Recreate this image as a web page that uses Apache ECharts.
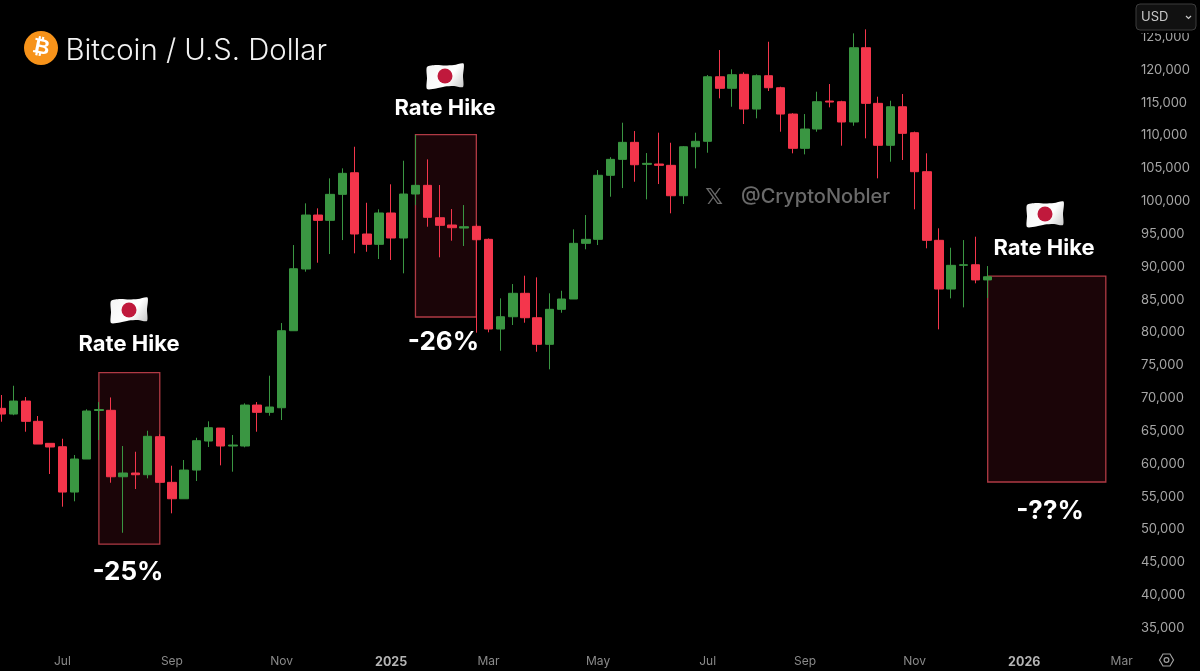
<!DOCTYPE html>
<html>
<head>
<meta charset="utf-8">
<title>Bitcoin / U.S. Dollar</title>
<script src="https://cdn.jsdelivr.net/npm/echarts@6/dist/echarts.min.js"></script>
<style>
html,body{margin:0;padding:0;background:#000;}
#container{width:1200px;height:671px;}
</style>
</head>
<body>
<div id="container"></div>
<script>
// weekly candles, [open, close, low, high], first one is the week of 2024-05-27
var candles = [
	[68450,67580,66410,70480],[67580,69560,67400,71890],[69560,66470,64890,70170],[66470,63010,63010,67280],
	[63120,62560,58450,63120],[62600,55700,53470,63820],[55700,60730,54290,61340],[60730,68040,60730,68300],
	[68120,68270,63620,69410],[68150,58030,57120,70110],[58030,58600,49500,62710],[58600,58340,56160,61840],
	[58340,64190,57790,65040],[64130,57180,57180,64500],[57180,54680,52460,59710],[54680,59050,54680,60580],
	[59050,63520,57380,63970],[63470,65500,62560,66470],[65450,62710,59770,65450],[62710,62860,58800,64390],
	[62710,68950,62510,69210],[68950,67840,64890,69410],[67840,68650,67330,73420],[68540,80270,66670,81440],
	[80270,89710,80270,93320],[89670,97890,89260,99670],[97890,97080,90630,98910],[97080,101040,91950,103480],
	[101040,104240,94080,105000],[104330,95000,92060,108290],[95000,93430,92300,99760],[93430,98200,91190,98760],
	[98200,94390,91040,102570],[94390,101090,89010,106160],[101090,102410,99410,110080],[102410,97540,96110,106370],
	[97480,96320,91450,102460],[96370,95960,93980,98800],[95910,96110,93170,99410],[96170,94130,79970,96500],
	[94190,80530,80030,94320],[80530,82400,77220,85200],[82400,85970,81140,87380],[85970,82250,81490,88650],
	[82250,78200,77070,88400],[78200,83530,74390,85970],[83530,85100,83010,86360],[85100,93580,85100,95710],
	[93580,94190,92670,97890],[94190,103940,93320,104740],[103940,106370,100680,106700],[106370,108960,102000,111950],
	[108960,105550,102960,110680],[105610,105760,100280,107330],[105660,105460,102610,110430],[105460,100830,98150,108900],
	[100830,108290,99570,108400],[108290,109120,105000,110430],[109120,118950,107380,119210],[118950,117190,115660,123020],
	[117190,119260,114380,120080],[119320,114030,111750,119620],[114030,119110,112620,119300],[119110,117280,116780,124280],
	[117280,113270,110580,117430],[113270,108050,107290,113400],[108050,110990,107130,113270],[110990,115150,110580,116670],
	[115250,115100,114290,117840],[115150,112060,108450,115300],[112060,123370,111490,125560],[123370,114900,109570,126170],
	[114900,108510,103480,115910],[108510,114380,106010,115300],[114380,110330,106270,116320],[110430,104490,98760,110600],
	[104490,94040,92820,107290],[94040,86620,80480,95870],[86620,90230,85200,92910],[90230,90320,83830,94080],
	[90320,88010,87490,94590],[88010,88490,85250,90120]
];
var tickWeeks = ['2024-07-01','2024-09-02','2024-11-04','2025-01-06','2025-03-03','2025-05-05','2025-07-07','2025-09-01','2025-11-03','2026-01-05','2026-03-02'];
var tickNames = ['Jul','Sep','Nov','2025','Mar','May','Jul','Sep','Nov','2026','Mar'];

// red boxes: week index from/to, price top/bottom
var boxFrom = [8, 34, 81];
var boxTo = [13, 39, 90.7];
var boxTop = [73900, 110150, 88600];
var boxBottom = [47780, 82360, 57230];

var weekCount = 94;
var weeks = [];
for (var i = 0; i < weekCount; i++) {
	weeks.push(new Date(Date.UTC(2024, 4, 27 + i * 7)).toISOString().slice(0, 10));
}

var textFont = 'Inter, "Liberation Sans", sans-serif';

function flag(cx, cy) {
	return {
		type: 'group',
		x: cx,
		y: cy,
		children: [
			{
				type: 'polygon',
				shape: {
					points: [[-18, -9], [-9, -11], [0, -10.5], [9, -11], [18.5, -12.5], [18, 0], [18, 11], [9, 10], [0, 10.5], [-9, 12.5], [-18, 13], [-18, 2]],
					smooth: 0.25
				},
				style: {
					fill: new echarts.graphic.LinearGradient(0, 0, 1, 1, [
						{offset: 0, color: '#f4f4f4'},
						{offset: 0.6, color: '#ffffff'},
						{offset: 1, color: '#c4c4c4'}
					])
				}
			},
			{type: 'circle', shape: {cx: 0, cy: 0, r: 7.5}, style: {fill: '#c0193c'}}
		]
	};
}

function bigText(text, cx, cy, size, weight) {
	return {
		type: 'text',
		x: cx,
		y: cy,
		style: {text: text, fill: '#fff', font: weight + ' ' + size + 'px ' + textFont, textAlign: 'center', textVerticalAlign: 'middle'}
	};
}

var boxData = [];
for (var b = 0; b < boxFrom.length; b++) {
	boxData.push([
		{coord: [boxFrom[b], boxTop[b]]},
		{coord: [boxTo[b], boxBottom[b]]}
	]);
}

var option = {
	backgroundColor: '#000',
	animation: false,
	grid: {left: -4.6, top: 4.2, width: 1144.5, height: 656.6, outerBoundsMode: 'none'},
	xAxis: [
		{
			type: 'category',
			data: weeks,
			axisLine: {show: false},
			axisTick: {show: false},
			splitLine: {show: false},
			axisLabel: {
				margin: -5,
				interval: function (index, value) {
					return tickWeeks.indexOf(value) > -1;
				},
				formatter: function (value) {
					var name = tickNames[tickWeeks.indexOf(value)];
					return name.length == 4 ? '{year|' + name + '}' : name;
				},
				color: '#8a8a8a',
				fontFamily: textFont,
				fontSize: 12,
				rich: {
					year: {color: '#b4b4b4', fontWeight: 'bold', fontFamily: textFont, fontSize: 12.5}
				}
			}
		},
		{type: 'value', show: false, min: -0.5, max: weekCount - 0.5}
	],
	yAxis: {
		type: 'value',
		position: 'right',
		min: 30000,
		max: 130000,
		interval: 5000,
		axisLine: {show: false},
		axisTick: {show: false},
		splitLine: {show: false},
		axisLabel: {
			margin: 1,
			padding: [2, 0, 0, 0],
			color: '#a6a6a6',
			fontFamily: textFont,
			fontSize: 13,
			formatter: function (value) {
				if (value == 30000 || value == 130000) return '';
				return value.toLocaleString('en-US');
			}
		}
	},
	series: [
		{
			type: 'line',
			xAxisIndex: 1,
			data: [],
			silent: true,
			markArea: {
				silent: true,
				itemStyle: {color: '#1b0508', borderColor: '#b03a44', borderWidth: 1.3},
				data: boxData
			}
		},
		{
			type: 'candlestick',
			xAxisIndex: 0,
			barWidth: 9,
			data: candles,
			itemStyle: {
				color: '#3a9642',
				color0: '#f4364c',
				borderColor: '#3a9642',
				borderColor0: '#f4364c',
				borderWidth: 1
			}
		}
	],
	graphic: {
		elements: [
			// logo and title
			{type: 'circle', shape: {cx: 41, cy: 48, r: 17}, style: {fill: '#f7931a'}},
			{type: 'text', x: 41, y: 48, rotation: -0.2, style: {text: '₿', fill: '#fff', font: 'bold 21px "DejaVu Sans", sans-serif', textAlign: 'center', textVerticalAlign: 'middle'}},
			{type: 'text', x: 65.5, y: 51, style: {text: 'Bitcoin / U.S. Dollar', fill: '#f2f2f2', font: '300 29.3px ' + textFont, textVerticalAlign: 'middle'}},
			// currency button
			{type: 'rect', z: 5, shape: {x: 1130, y: 0, width: 70, height: 33}, style: {fill: '#000'}},
			{type: 'rect', z: 6, shape: {x: 1136, y: 4, width: 60, height: 26, r: 4}, style: {fill: '#111', stroke: '#3c3c3c', lineWidth: 1}},
			{type: 'text', z: 7, x: 1141, y: 17, style: {text: 'USD', fill: '#c8c8c8', font: '13px ' + textFont, textVerticalAlign: 'middle'}},
			{type: 'polyline', z: 7, shape: {points: [[1186, 16], [1188.5, 18.5], [1191, 16]]}, style: {stroke: '#c8c8c8', lineWidth: 1.2, fill: null}},
			// settings icon
			{type: 'polygon', shape: {points: [[1159.5, 660], [1163, 654], [1170, 654], [1173.5, 660], [1170, 666], [1163, 666]]}, style: {fill: null, stroke: '#a0a0a0', lineWidth: 1.2}},
			{type: 'circle', shape: {cx: 1166.5, cy: 660, r: 2.4}, style: {fill: null, stroke: '#a0a0a0', lineWidth: 1.2}},
			// watermark
			{type: 'text', x: 714, y: 198, style: {text: '𝕏', fill: '#6a6a6a', font: 'bold 22px "DejaVu Sans", sans-serif', textAlign: 'center', textVerticalAlign: 'middle'}},
			{type: 'text', x: 741, y: 197, style: {text: '@CryptoNobler', fill: '#6a6a6a', font: '500 20px ' + textFont, textVerticalAlign: 'middle'}},
			// notes
			flag(129, 310), bigText('Rate Hike', 129, 344, 22, 700), bigText('-25%', 128, 572, 26, 700),
			flag(445, 76), bigText('Rate Hike', 445, 108, 22, 700), bigText('-26%', 443.5, 342, 26, 700),
			flag(1045, 214), bigText('Rate Hike', 1044, 248, 22, 700), bigText('-??%', 1050, 511, 26, 700)
		]
	}
};

var myChart = echarts.init(document.getElementById('container'));
myChart.setOption(option, true);
</script>
</body>
</html>
